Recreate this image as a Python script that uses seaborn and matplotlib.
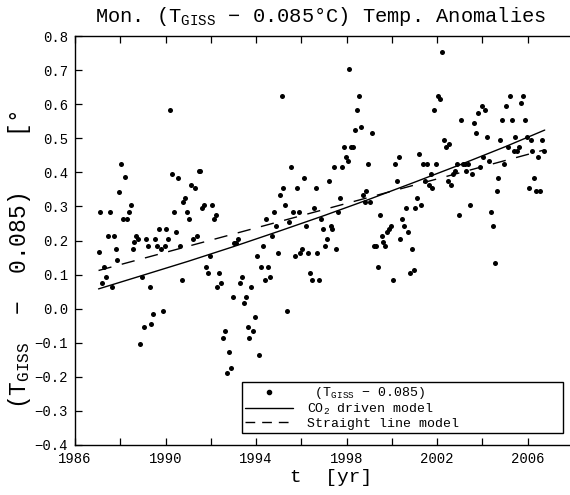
import numpy as np
import pandas as pd
import matplotlib
matplotlib.use("Agg")
import matplotlib.pyplot as plt
import seaborn as sns
from matplotlib.lines import Line2D
from matplotlib.legend_handler import HandlerLine2D
from matplotlib.ticker import FuncFormatter

# ---- data ----
start_year = 1987  # monthly values, Jan 1987 onward
anomaly = [
    0.165, 0.284, 0.074, 0.123, 0.094, 0.214, 0.284, 0.064, 0.214, 0.174, 0.143, 0.343,
    0.424, 0.264, 0.385, 0.264, 0.284, 0.304, 0.174, 0.195, 0.214, 0.204, -0.105, 0.094,
    -0.055, 0.204, 0.185, 0.064, -0.045, -0.016, 0.204, 0.185, 0.235, 0.174, -0.006, 0.185,
    0.235, 0.204, 0.583,
    0.394, 0.284, 0.224, 0.384, 0.185, 0.084, 0.314, 0.325, 0.284, 0.264, 0.364, 0.204,
    0.354, 0.214, 0.404, 0.404, 0.294, 0.304, 0.123, 0.104, 0.154, 0.304, 0.264, 0.275,
    0.064, 0.104, 0.074, -0.085, -0.066, -0.19, -0.126, -0.175, 0.035, 0.194, 0.194, 0.204,
    0.074, 0.094, 0.016, 0.035, -0.055, -0.085, 0.064, -0.066, -0.025,
    0.154, -0.136, 0.123, 0.185, 0.084, 0.264, 0.123, 0.094, 0.214, 0.284, 0.244, 0.164,
    0.334, 0.624, 0.354, 0.304, -0.006, 0.254, 0.415, 0.284, 0.154, 0.354, 0.284, 0.164,
    0.174, 0.384, 0.244, 0.164, 0.104, 0.084, 0.294, 0.354, 0.164, 0.084, 0.264, 0.235,
    0.185, 0.204, 0.375, 0.244, 0.235, 0.415, 0.174, 0.284, 0.325,
    0.415, 0.474, 0.444, 0.434, 0.703, 0.474, 0.474, 0.524, 0.584, 0.624, 0.534, 0.334,
    0.314, 0.344, 0.424, 0.314, 0.514, 0.185, 0.185, 0.123, 0.275, 0.214, 0.195, 0.185,
    0.224, 0.235, 0.244, 0.084, 0.424, 0.375, 0.444, 0.204, 0.264, 0.244, 0.294, 0.224,
    0.104, 0.174, 0.113, 0.294, 0.325, 0.454, 0.304, 0.424, 0.375,
    0.424, 0.364, 0.394, 0.354, 0.584, 0.424, 0.624, 0.614, 0.753, 0.494, 0.474, 0.375,
    0.484, 0.364, 0.394, 0.404, 0.424, 0.275, 0.554, 0.424, 0.424, 0.404, 0.424, 0.304,
    0.394, 0.544, 0.514, 0.574, 0.415, 0.594, 0.444, 0.584, 0.504, 0.434, 0.284, 0.244,
    0.135, 0.344, 0.384, 0.494, 0.554, 0.424, 0.594, 0.474, 0.624,
    0.554, 0.464, 0.504, 0.464, 0.474, 0.604, 0.624, 0.554, 0.504, 0.354, 0.494, 0.464,
    0.384, 0.344, 0.444, 0.344, 0.494, 0.464,
]
model_years = [1987.04, 1989, 1991, 1993, 1995, 1997, 1999, 2001, 2003, 2005, 2006.75]
model_values = [0.058, 0.098, 0.139, 0.182, 0.227, 0.273, 0.321, 0.371, 0.422, 0.475, 0.524]
line_years = [1987.04, 2006.75]
line_values = [0.112, 0.466]
xtick_years = [1986, 1990, 1994, 1998, 2002, 2006]
ytick_values = [-0.4, -0.3, -0.2, -0.1, 0.0, 0.1, 0.2, 0.3, 0.4, 0.5, 0.6, 0.7, 0.8]

df = pd.DataFrame({
    "t": start_year + (np.arange(len(anomaly)) + 0.5) / 12.0,
    "v": anomaly,
})

# ---- style ----
sns.set_style("ticks")
FONT = "Liberation Mono"
plt.rcParams["font.family"] = [FONT, "DejaVu Sans Mono"]
plt.rcParams["mathtext.fontset"] = "custom"
plt.rcParams["mathtext.rm"] = FONT
plt.rcParams["mathtext.it"] = FONT
plt.rcParams["mathtext.bf"] = FONT
plt.rcParams["text.color"] = "black"
plt.rcParams["axes.edgecolor"] = "black"

W, H = 570, 495
fig = plt.figure(figsize=(W / 100, H / 100), dpi=100)
ax = fig.add_axes([75 / W, 50 / H, 498 / W, 409 / H])

dash = (0, (9.6, 7.7))
sns.scatterplot(data=df, x="t", y="v", ax=ax, color="black", s=13,
                linewidth=0, legend=False)
sns.lineplot(x=model_years, y=model_values, ax=ax, color="black", lw=1.0)
sns.lineplot(x=line_years, y=line_values, ax=ax, color="black", lw=1.0,
             linestyle=dash)

ax.set_xlim(1986, 2008)
ax.set_ylim(-0.4, 0.8)
ax.set_xticks(xtick_years)
ax.set_xticks(np.arange(1986, 2009, 2), minor=True)
ax.set_yticks(ytick_values)
ax.yaxis.set_major_formatter(FuncFormatter(lambda v, p: f"{v:.1f}".replace("-", "\u2212")))
ax.tick_params(which="both", direction="in", top=True, right=False,
               length=5, width=0.9, labelsize=10, pad=5, colors="black")
for s in ax.spines.values():
    s.set_linewidth(1.0)
    s.set_color("black")
ax.set_xlabel("")
ax.set_ylabel("")

fig.text(320 / W, 1 - 17 / H,
         "Mon. (T$_{\\mathrm{GISS}}$ \u2212 0.085\u00b0C) Temp. Anomalies",
         ha="center", va="center", fontsize=14.7)
fig.text(331 / W, 1 - 478 / H, "t  [yr]", ha="center", va="center", fontsize=14)
fig.text(20 / W, 1 - 260 / H, "(T$_{\\mathrm{GISS}}$  \u2212  0.085)    [\u00b0",
         ha="center", va="center", rotation=90, fontsize=16.5)


class LeftMarkerHandler(HandlerLine2D):
    def get_xdata(self, legend, xdescent, ydescent, width, height, fontsize):
        xdata, _ = super().get_xdata(legend, xdescent, ydescent, width, height, fontsize)
        return xdata, np.array([-xdescent + 2.0])


h_dot = Line2D([], [], ls="none", marker="o", color="black", ms=3)
h_solid = Line2D([], [], color="black", lw=1.0)
h_dash = Line2D([], [], color="black", lw=1.0, linestyle=(0, (7.0, 5.0)))
leg = fig.legend(
    [h_dot, h_solid, h_dash],
    [" (T$_{\\mathrm{GISS}}$ \u2212 0.085)", "CO$_2$ driven model", "Straight line model"],
    loc="upper left", bbox_to_anchor=(242 / W, 1 - 387 / H, 321 / W, 0.01),
    bbox_transform=fig.transFigure, mode="expand", borderaxespad=0,
    fontsize=9.5, handlelength=3.6, handletextpad=1.05, labelspacing=0.05,
    borderpad=0.25, fancybox=False, framealpha=1, edgecolor="black",
    handler_map={h_dot: LeftMarkerHandler(numpoints=1)},
)
leg.get_frame().set_linewidth(1.0)

fig.savefig("out.png", dpi=100)
